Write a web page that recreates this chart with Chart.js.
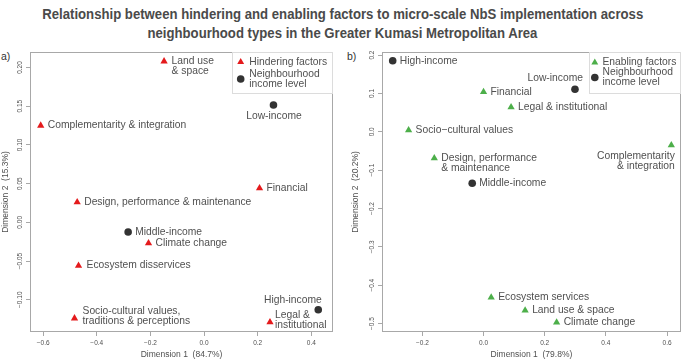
<!DOCTYPE html>
<html>
<head>
<meta charset="utf-8">
<script src="https://cdn.jsdelivr.net/npm/chart.js@4.4.1/dist/chart.umd.min.js"></script>
<style>
  html, body { margin: 0; padding: 0; background: #ffffff; }
  body { width: 685px; height: 361px; position: relative; overflow: hidden; font-family: "Liberation Sans", Arial, sans-serif; }
  .tl { position: absolute; left: 0; width: 685px; text-align: center; font-weight: bold; font-size: 14px; line-height: 16px; color: #4a4a4a; white-space: nowrap; }
  .tl span { display: inline-block; transform-origin: center center; }
  .panel { position: absolute; font-size: 10.5px; color: #333; line-height: 12px; }
  canvas { position: absolute; }
</style>
</head>
<body>
<div class="tl" id="t1" style="top:6px"><span>Relationship between hindering and enabling factors to micro-scale NbS implementation across</span></div>
<div class="tl" id="t2" style="top:25px"><span>neighbourhood types in the Greater Kumasi Metropolitan Area</span></div>
<div class="panel" style="left:1px; top:50px">a)</div>
<div class="panel" style="left:347px; top:50px">b)</div>
<canvas id="ca" width="340" height="321" style="left:0px; top:40px"></canvas>
<canvas id="cb" width="345" height="321" style="left:340px; top:40px"></canvas>
<script>
// ---------------- DATA ----------------
// Panel a) hindering factors
const hinderingFactors = ["Land use\n& space", "Complementarity & integration", "Financial", "Design, performance & maintenance", "Climate change", "Ecosystem disservices", "Socio-cultural values,\ntraditions & perceptions", "Legal &\ninstitutional"];
const hinderingDim1 = [-0.149, -0.609, 0.207, -0.473, -0.207, -0.468, -0.483, 0.246];
const hinderingDim2 = [0.208, 0.125, 0.044, 0.026, -0.027, -0.056, -0.124, -0.129];
const incomeLevelsA = ["Low-income", "Middle-income", "High-income"];
const incomeDim1A = [0.259, -0.283, 0.426];
const incomeDim2A = [0.1515, -0.0125, -0.113];

// Panel b) enabling factors
const enablingFactors = ["Financial", "Legal & institutional", "Socio\u2212cultural values", "Design, performance\n& maintenance", "Complementarity\n& integration", "Ecosystem services", "Land use & space", "Climate change"];
const enablingDim1 = [0.000, 0.090, -0.245, -0.161, 0.614, 0.025, 0.136, 0.239];
const enablingDim2 = [0.104, 0.064, 0.004, -0.069, -0.035, -0.432, -0.466, -0.497];
const incomeLevelsB = ["Low-income", "Middle-income", "High-income"];
const incomeDim1B = [0.299, -0.037, -0.297];
const incomeDim2B = [0.111, -0.134, 0.185];

// Tick values and labels
const aXTicks = [-0.6, -0.4, -0.2, 0.0, 0.2, 0.4];
const aXTickLabels = ["\u22120.6", "\u22120.4", "\u22120.2", "0.0", "0.2", "0.4"];
const aYTicks = [-0.10, -0.05, 0.00, 0.05, 0.10, 0.15, 0.20];
const aYTickLabels = ["\u22120.10", "\u22120.05", "0.00", "0.05", "0.10", "0.15", "0.20"];
const bXTicks = [-0.2, 0.0, 0.2, 0.4, 0.6];
const bXTickLabels = ["\u22120.2", "0.0", "0.2", "0.4", "0.6"];
const bYTicks = [-0.5, -0.4, -0.3, -0.2, -0.1, 0.0, 0.1, 0.2];
const bYTickLabels = ["\u22120.5", "\u22120.4", "\u22120.3", "\u22120.2", "\u22120.1", "0.0", "0.1", "0.2"];

const axisTitlesA = ["Dimension 1  (84.7%)", "Dimension 2  (15.3%)"];
const axisTitlesB = ["Dimension 1  (79.8%)", "Dimension 2  (20.2%)"];
const legendA = ["Hindering factors", "Neighbourhood\nincome level"];
const legendB = ["Enabling factors", "Neighbourhood\nincome level"];

// ---------------- STYLE ----------------
const FONT = '"Liberation Sans", Arial, Helvetica, sans-serif';
const TEXT = '#505050';
const BOXC = '#a8a8a8';
const RED = '#e41a1c';
const GREEN = '#4daf4a';
const DARK = '#333333';
Chart.defaults.font.family = FONT;

// title scaling to the condensed look of the reference
(function () {
  const s1 = document.querySelector('#t1 span');
  const s2 = document.querySelector('#t2 span');
  const f = 601 / s1.getBoundingClientRect().width;
  s1.style.transform = 'scaleX(' + f + ')';
  s2.style.transform = 'scaleX(' + f + ')';
})();

const boxPlugin = {
  id: 'rbox',
  beforeDatasetsDraw(chart, args, opts) {
    const { ctx, chartArea: a } = chart;
    ctx.save();
    ctx.strokeStyle = BOXC;
    ctx.lineWidth = 1;
    ctx.strokeRect(Math.round(a.left) + 0.5, Math.round(a.top) + 0.5, Math.round(a.right - a.left) - 1, Math.round(a.bottom - a.top) - 1);
    ctx.restore();
  }
};

const yTickPlugin = {
  id: 'ytickrot',
  afterDraw(chart, args, opts) {
    const { ctx } = chart;
    const sc = chart.scales.y;
    ctx.save();
    ctx.fillStyle = TEXT;
    ctx.font = '6.5px ' + FONT;
    ctx.textAlign = 'center';
    ctx.textBaseline = 'middle';
    sc.ticks.forEach((t, i) => {
      const y = sc.getPixelForValue(t.value);
      ctx.save();
      ctx.translate(opts.x, y);
      ctx.rotate(-Math.PI / 2);
      ctx.fillText(opts.labels[opts.values.indexOf(t.value)] ?? String(t.value), 0, 0);
      ctx.restore();
    });
    ctx.restore();
  }
};

const pointLabelPlugin = {
  id: 'plabels',
  afterDatasetsDraw(chart, args, opts) {
    const { ctx } = chart;
    ctx.save();
    ctx.fillStyle = TEXT;
    ctx.font = '10.3px ' + FONT;
    ctx.textBaseline = 'middle';
    chart.data.datasets.forEach((ds, di) => {
      const meta = chart.getDatasetMeta(di);
      meta.data.forEach((el, j) => {
        const name = ds.data[j].label;
        const p = Object.assign({ dx: 7, dy: 0, align: 'left' }, (opts.place || {})[name] || {});
        ctx.textAlign = p.align;
        name.split('\n').forEach((ln, k) => {
          ctx.fillText(ln, el.x + p.dx, el.y + p.dy + k * 10);
        });
      });
    });
    ctx.restore();
  }
};

const legendPlugin = {
  id: 'rlegend',
  afterDraw(chart, args, opts) {
    const { ctx, chartArea: a } = chart;
    const x0 = a.right - opts.width, y0 = a.top, h = opts.height;
    ctx.save();
    ctx.strokeStyle = '#dcdcdc';
    ctx.lineWidth = 1;
    ctx.strokeRect(Math.round(x0) + 0.5, Math.round(y0) + 0.5, Math.round(opts.width) - 1, h);
    ctx.font = '10.3px ' + FONT;
    ctx.fillStyle = TEXT;
    ctx.textAlign = 'left';
    ctx.textBaseline = 'middle';
    const mx = x0 + opts.markerX, tx = x0 + opts.textX;
    // entry 1: triangle
    ctx.fillStyle = opts.color;
    const r = 4;
    const cy1 = y0 + opts.y1;
    ctx.beginPath();
    ctx.moveTo(mx, cy1 - r);
    ctx.lineTo(mx + r * Math.sqrt(3) / 2, cy1 + r / 2);
    ctx.lineTo(mx - r * Math.sqrt(3) / 2, cy1 + r / 2);
    ctx.closePath();
    ctx.fill();
    ctx.fillStyle = TEXT;
    ctx.fillText(opts.labels[0], tx, cy1);
    // entry 2: circle
    const lines = opts.labels[1].split('\n');
    const cyA = y0 + opts.y2;
    ctx.fillStyle = DARK;
    ctx.beginPath();
    ctx.arc(mx, cyA + 5 + opts.circleDy, 3.8, 0, Math.PI * 2);
    ctx.fill();
    ctx.fillStyle = TEXT;
    lines.forEach((ln, k) => ctx.fillText(ln, tx, cyA + k * 10));
    ctx.restore();
  }
};

function buildChart(id, cfg) {
  const factorPts = cfg.names.map((n, i) => ({ x: cfg.d1[i], y: cfg.d2[i], label: n }));
  const incomePts = cfg.incNames.map((n, i) => ({ x: cfg.inc1[i], y: cfg.inc2[i], label: n }));
  return new Chart(document.getElementById(id), {
    type: 'scatter',
    data: {
      datasets: [
        { label: cfg.legend[0], data: factorPts, pointStyle: 'triangle', pointRadius: 4.2, pointHoverRadius: 4.2, backgroundColor: cfg.color, borderColor: cfg.color, borderWidth: 0 },
        { label: cfg.legend[1], data: incomePts, pointStyle: 'circle', pointRadius: 3.8, pointHoverRadius: 3.8, backgroundColor: DARK, borderColor: DARK, borderWidth: 0 }
      ]
    },
    options: {
      responsive: false,
      animation: false,
      devicePixelRatio: 1,
      layout: { padding: { left: 0, top: 12, right: cfg.padRight, bottom: 0 } },
      plugins: {
        legend: { display: false },
        tooltip: { enabled: false },
        rbox: {},
        ytickrot: { x: cfg.yTickX, values: cfg.yTicks, labels: cfg.yTickLabels },
        plabels: { place: cfg.place },
        rlegend: Object.assign({ labels: cfg.legend, color: cfg.color }, cfg.legendGeom)
      },
      scales: {
        x: {
          type: 'linear', min: cfg.xRange[0], max: cfg.xRange[1],
          afterBuildTicks: s => { s.ticks = cfg.xTicks.map(v => ({ value: v })); },
          afterFit: s => { s.height = 29; },
          ticks: { color: TEXT, font: { size: 6.5 }, padding: 3, maxRotation: 0, minRotation: 0,
                   callback: (v) => cfg.xTickLabels[cfg.xTicks.findIndex(t => Math.abs(t - v) < 1e-9)] },
          grid: { display: true, drawOnChartArea: false, drawTicks: true, tickLength: 4, color: BOXC, tickColor: BOXC },
          border: { display: false },
          title: { display: true, text: cfg.titles[0], color: TEXT, font: { size: 8.5 }, padding: { top: 0, bottom: 1 } }
        },
        y: {
          type: 'linear', min: cfg.yRange[0], max: cfg.yRange[1],
          afterBuildTicks: s => { s.ticks = cfg.yTicks.map(v => ({ value: v })); },
          afterFit: s => { s.width = cfg.yWidth; },
          ticks: { display: false },
          grid: { display: true, drawOnChartArea: false, drawTicks: true, tickLength: 4, color: BOXC, tickColor: BOXC },
          border: { display: false },
          title: { display: true, text: cfg.titles[1], color: TEXT, font: { size: 8.5 }, padding: { top: cfg.yTitlePad, bottom: 0 } }
        }
      }
    },
    plugins: [boxPlugin, yTickPlugin, pointLabelPlugin, legendPlugin]
  });
}

buildChart('ca', {
  names: hinderingFactors, d1: hinderingDim1, d2: hinderingDim2,
  incNames: incomeLevelsA, inc1: incomeDim1A, inc2: incomeDim2A,
  color: RED, legend: legendA, titles: axisTitlesA,
  xRange: [-0.649, 0.481], yRange: [-0.1417, 0.22],
  xTicks: aXTicks, xTickLabels: aXTickLabels, yTicks: aYTicks, yTickLabels: aYTickLabels,
  padRight: 7, yWidth: 30, yTickX: 20, yTitlePad: 1,
  legendGeom: { width: 100.7, height: 41, markerX: 8.4, textX: 17, y1: 10, y2: 22, circleDy: 0 },
  place: {
    "Land use\n& space": { dx: 7.5, dy: 0 },
    "Low-income": { dx: 0.5, dy: 11, align: 'center' },
    "Socio-cultural values,\ntraditions & perceptions": { dx: 8, dy: -7 },
    "High-income": { dx: 3.5, dy: -9.5, align: 'right' },
    "Legal &\ninstitutional": { dx: 5, dy: -7 },
    "Ecosystem disservices": { dx: 8 }
  }
});

buildChart('cb', {
  names: enablingFactors, d1: enablingDim1, d2: enablingDim2,
  incNames: incomeLevelsB, inc1: incomeDim1B, inc2: incomeDim2B,
  color: GREEN, legend: legendB, titles: axisTitlesB,
  xRange: [-0.332, 0.645], yRange: [-0.522, 0.208],
  xTicks: bXTicks, xTickLabels: bXTickLabels, yTicks: bYTicks, yTickLabels: bYTickLabels,
  padRight: 2, yWidth: 42, yTickX: 32, yTitlePad: 11,
  legendGeom: { width: 92.3, height: 41, markerX: 6.3, textX: 14, y1: 10.5, y2: 20.5, circleDy: 0 },
  place: {
    "Low-income": { dx: 8, dy: -11, align: 'right' },
    "Design, performance\n& maintenance": { dx: 7, dy: 0 },
    "Complementarity\n& integration": { dx: 3.5, dy: 10.7, align: 'right' }
  }
});
</script>
</body>
</html>
